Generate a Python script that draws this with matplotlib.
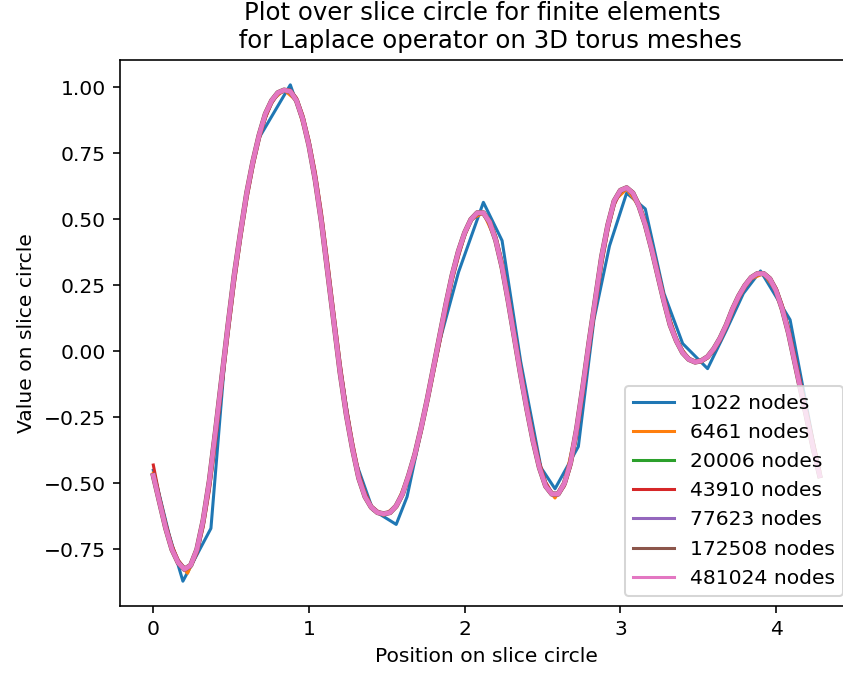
import matplotlib
matplotlib.use("Agg")
import matplotlib.pyplot as plt

LABELS = ["1022 nodes", "6461 nodes", "20006 nodes", "43910 nodes",
          "77623 nodes", "172508 nodes", "481024 nodes"]

# coarse mesh (1022 nodes), piecewise linear
X_1022 = [0.00, 0.10, 0.19, 0.37, 0.47, 0.57, 0.67, 0.77, 0.88, 0.98, 1.08, 1.18,
          1.29, 1.41, 1.56, 1.63, 1.72, 1.84, 1.96, 2.12, 2.24, 2.36, 2.49, 2.58,
          2.73, 2.83, 2.93, 3.04, 3.16, 3.28, 3.40, 3.56, 3.68, 3.79, 3.90, 4.09,
          4.28]
Y_1022 = [-0.45, -0.69, -0.87, -0.67, 0.05, 0.50, 0.80, 0.90, 1.01, 0.84, 0.50, 0.02,
          -0.40, -0.60, -0.655, -0.55, -0.30, 0.04, 0.30, 0.565, 0.42, -0.04, -0.44, -0.52,
          -0.36, 0.12, 0.40, 0.60, 0.54, 0.22, 0.03, -0.065, 0.08, 0.22, 0.305, 0.12,
          -0.47]

X_6461 = [0.00, 0.08, 0.16, 0.22, 0.28, 0.36, 0.44, 0.52, 0.60, 0.68, 0.76, 0.84,
          0.92, 1.00, 1.08, 1.16, 1.24, 1.32, 1.40, 1.48, 1.56, 1.64, 1.72, 1.80,
          1.88, 1.96, 2.04, 2.12, 2.20, 2.28, 2.36, 2.44, 2.52, 2.58, 2.64, 2.72,
          2.80, 2.88, 2.96, 3.04, 3.12, 3.20, 3.28, 3.36, 3.44, 3.52, 3.60, 3.68,
          3.76, 3.84, 3.92, 4.00, 4.08, 4.16, 4.24, 4.28]
Y_6461 = [-0.46, -0.67, -0.80, -0.84, -0.76, -0.49, -0.10, 0.29, 0.60, 0.82, 0.95, 0.99,
          0.95, 0.78, 0.49, 0.11, -0.24, -0.48, -0.59, -0.62, -0.585, -0.47, -0.29, -0.06,
          0.18, 0.38, 0.50, 0.525, 0.42, 0.19, -0.09, -0.34, -0.51, -0.555, -0.50, -0.29,
          0.04, 0.36, 0.57, 0.615, 0.55, 0.39, 0.19, 0.04, -0.03, -0.04, 0.005, 0.10,
          0.21, 0.275, 0.295, 0.23, 0.07, -0.15, -0.37, -0.47]

# fine meshes sampled along the slice circle
X_FINE = [0.00, 0.04, 0.08, 0.12, 0.16, 0.20, 0.24, 0.28, 0.32, 0.36, 0.40, 0.44,
          0.48, 0.52, 0.56, 0.60, 0.64, 0.68, 0.72, 0.76, 0.80, 0.84, 0.88, 0.92,
          0.96, 1.00, 1.04, 1.08, 1.12, 1.16, 1.20, 1.24, 1.28, 1.32, 1.36, 1.40,
          1.44, 1.48, 1.52, 1.56, 1.60, 1.64, 1.68, 1.72, 1.76, 1.80, 1.84, 1.88,
          1.92, 1.96, 2.00, 2.04, 2.08, 2.12, 2.16, 2.20, 2.24, 2.28, 2.32, 2.36,
          2.40, 2.44, 2.48, 2.52, 2.56, 2.60, 2.64, 2.68, 2.72, 2.76, 2.80, 2.84,
          2.88, 2.92, 2.96, 3.00, 3.04, 3.08, 3.12, 3.16, 3.20, 3.24, 3.28, 3.32,
          3.36, 3.40, 3.44, 3.48, 3.52, 3.56, 3.60, 3.64, 3.68, 3.72, 3.76, 3.80,
          3.84, 3.88, 3.92, 3.96, 4.00, 4.04, 4.08, 4.12, 4.16, 4.20, 4.24, 4.28]
Y_FINE = [-0.47, -0.57, -0.67, -0.75, -0.80, -0.825, -0.81, -0.75, -0.64, -0.49, -0.30, -0.10,
          0.10, 0.29, 0.45, 0.60, 0.72, 0.82, 0.90, 0.95, 0.98, 0.99, 0.985, 0.95,
          0.88, 0.78, 0.65, 0.49, 0.30, 0.11, -0.08, -0.24, -0.37, -0.48, -0.55, -0.59,
          -0.61, -0.615, -0.61, -0.585, -0.54, -0.47, -0.39, -0.29, -0.18, -0.06, 0.06, 0.18,
          0.29, 0.38, 0.45, 0.50, 0.525, 0.525, 0.49, 0.42, 0.32, 0.19, 0.05, -0.09,
          -0.22, -0.34, -0.44, -0.51, -0.54, -0.54, -0.50, -0.42, -0.29, -0.13, 0.04, 0.20,
          0.36, 0.48, 0.57, 0.61, 0.62, 0.60, 0.55, 0.48, 0.39, 0.29, 0.19, 0.10,
          0.04, -0.005, -0.03, -0.04, -0.035, -0.02, 0.01, 0.05, 0.10, 0.16, 0.21, 0.25,
          0.28, 0.295, 0.295, 0.275, 0.23, 0.16, 0.07, -0.04, -0.15, -0.26, -0.37, -0.47]

Y_43910 = [-0.43, -0.55, -0.65, -0.735, -0.79, -0.82, -0.815, -0.765, -0.665, -0.525, -0.34, -0.135,
           0.065, 0.255, 0.425, 0.575, 0.70, 0.805, 0.885, 0.94, 0.975, 0.99, 0.99, 0.96,
           0.895, 0.80, 0.68, 0.525, 0.34, 0.145, -0.045, -0.21, -0.345, -0.46, -0.535, -0.585,
           -0.605, -0.615, -0.613, -0.59, -0.545, -0.48, -0.40, -0.305, -0.195, -0.08, 0.035, 0.155,
           0.27, 0.36, 0.44, 0.495, 0.52, 0.525, 0.495, 0.435, 0.34, 0.215, 0.075, -0.065,
           -0.195, -0.315, -0.42, -0.495, -0.535, -0.543, -0.51, -0.435, -0.315, -0.16, 0.01, 0.17,
           0.33, 0.46, 0.555, 0.605, 0.618, 0.605, 0.56, 0.495, 0.405, 0.31, 0.21, 0.118,
           0.05, 0.003, -0.025, -0.04, -0.038, -0.025, 0.003, 0.04, 0.09, 0.148, 0.20, 0.243,
           0.275, 0.293, 0.298, 0.28, 0.24, 0.175, 0.09, -0.015, -0.125, -0.235, -0.345, -0.45]

DPI = 146
fig = plt.figure(figsize=(843 / DPI, 674 / DPI), dpi=DPI)
ax = fig.add_axes([120 / 843, 68 / 674, 733 / 843, 546 / 674])

ax.plot(X_1022, Y_1022, label=LABELS[0])
ax.plot(X_6461, Y_6461, label=LABELS[1])
ax.plot(X_FINE, Y_FINE, label=LABELS[2])
ax.plot(X_FINE, Y_43910, label=LABELS[3])
ax.plot(X_FINE, Y_FINE, label=LABELS[4], lw=2.2)
ax.plot(X_FINE, Y_FINE, label=LABELS[5], lw=2.6)
ax.plot(X_FINE, Y_FINE, label=LABELS[6], lw=2.3)

ax.set_title("Plot over slice circle for finite elements \n for Laplace operator on 3D torus meshes")
ax.set_xlabel("Position on slice circle")
ax.set_ylabel("Value on slice circle")
leg = ax.legend(loc="lower right")
for line in leg.get_lines():
    line.set_linewidth(1.5)

fig.savefig("out.png", dpi=DPI)
